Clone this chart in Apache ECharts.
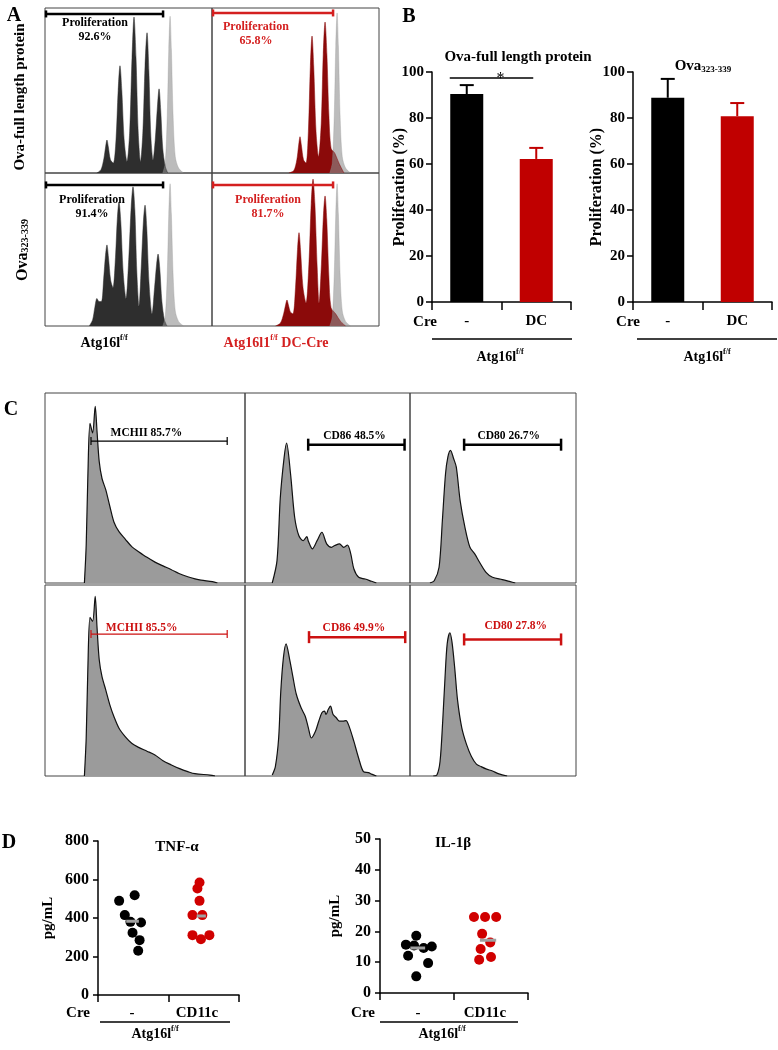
<!DOCTYPE html>
<html lang="en">
<head>
<meta charset="utf-8">
<title>Atg16l1 DC figure</title>
<style>
  body { margin: 0; background: #fff; }
  #fig { width: 778px; height: 1050px; }
</style>
</head>
<body>
<script src="https://cdn.jsdelivr.net/npm/echarts@6/dist/echarts.min.js"></script>
<div id="fig"></div>
<script>
// ---------- panel A: CFSE dilution (x = fluorescence 0-100, y = % of max)
var aCtrlTop = [[31,0],[33.5,2],[35.3,9],[36.3,16],[37.1,20],[37.9,16],[39.2,8],[40.9,6],[42.5,20],[43.8,50],[44.9,65],[46,50],[47.4,20],[49.1,7],[50.7,25],[52.1,70],[53.3,94.5],[54.5,70],[55.8,25],[57.2,7],[58.6,25],[59.9,65],[61.1,85],[62.2,62],[63.4,22],[64.7,8],[66,20],[67.3,40],[68.3,51],[69.3,38],[70.5,15],[72,4],[73.5,0]];
var aCreTop = [[46,0],[49,1.5],[50.8,8],[51.9,17],[52.7,22],[53.5,17],[54.8,8],[56.3,6],[57.7,25],[58.9,65],[59.9,83],[60.9,65],[62.3,25],[63.8,10],[65.4,30],[66.6,72],[67.7,91.5],[68.8,72],[70,35],[71.3,15],[73.5,12],[76,6],[79,0]];
var aCtrlBottom = [[26.5,0],[28.5,4],[29.8,12],[31.1,18],[32.3,16],[33.8,16],[35.2,32],[36.2,46],[37.1,53],[38,45],[39.3,30],[40.7,25],[42.2,45],[43.3,70],[44.3,81],[45.4,68],[46.8,35],[48.5,18],[50.2,45],[51.6,78],[52.7,91],[53.8,76],[55,35],[56.3,13],[57.6,38],[58.9,68],[59.9,79],[60.9,65],[62.3,28],[64.1,8],[65.6,25],[66.8,40],[67.7,47],[68.7,38],[70,16],[71.5,4],[73,0]];
var aCreBottom = [[38,0],[41,2],[42.9,8],[44.1,14],[44.9,17],[45.7,14],[47,9],[48.5,8],[50,25],[51.2,50],[52.1,61],[53,50],[54.5,25],[56.3,15],[58,40],[59.4,80],[60.5,96],[61.6,80],[63,38],[64.1,15],[65.5,40],[66.7,72],[67.7,85],[68.7,70],[70,32],[71.3,12],[74,8],[77,3],[80,0]];
// undivided controls
var aUndivTop1 = [[70.5,0],[72,6],[73.2,35],[74.1,75],[74.9,95],[75.7,75],[76.7,35],[78,10],[80,3],[83,0]];
var aUndivTop2 = [[70.5,0],[72,6],[73.2,35],[74.1,77],[74.9,97],[75.7,77],[76.7,35],[78,10],[80,3],[83,0]];
var aUndivBottom1 = [[70.5,0],[72,6],[73.2,34],[74.1,73],[74.9,93],[75.7,73],[76.7,34],[78,10],[80,3],[83,0]];
var aUndivBottom2 = [[70.5,0],[72,6],[73.2,34],[74.1,73],[74.9,93],[75.7,73],[76.7,34],[78,10],[80,3],[83,0]];
var aPercent = ['92.6%', '65.8%', '91.4%', '81.7%'];

// ---------- panel B: proliferation (%)
var bCats = ['-', 'DC'];
var bFullMean = [90.4, 62.2];
var bFullErr = [94.3, 67.0];
var bPepMean = [88.8, 80.8];
var bPepErr = [97.0, 86.5];

// ---------- panel C: surface markers (x = fluorescence 0-100, y = % of max)
var cMhcTop = [[19.7,0],[20.6,20],[21.4,55],[22.5,84],[23.8,79],[25.1,93],[26,80],[27.1,64],[28.5,55],[30.4,49],[32.5,40],[34.5,32],[37,27],[40.2,23],[43.5,19],[46.8,16.5],[51,13.5],[55,11],[59,9],[63.2,7],[67,5],[71.4,3.3],[75,2.2],[78,1.5],[83.7,0.7],[86.2,0]];
var cCd86Top = [[16.5,0],[19.4,11.8],[21.4,45],[23.7,66],[25.2,73.6],[27.6,57.5],[30.1,34.6],[32.6,25],[35.3,22.3],[37.5,24.4],[38.4,22],[40.8,18],[43.7,22.3],[46.6,26.7],[49.5,20.6],[52.4,18.8],[54.4,19.7],[57.3,20.6],[59.8,18.8],[62.1,20],[64.1,15.3],[66,7.4],[68.9,3],[72.8,2.1],[76.7,0.9],[79.6,0]];
var cCd80Top = [[12,0],[14.6,1.2],[17.5,8.3],[19.5,32.9],[21.4,57.5],[22.8,66.3],[24.4,69.8],[26.3,65.4],[27.9,61],[30.2,43.4],[33.1,29.3],[36.1,18.8],[39,15.3],[41.9,10.9],[45.8,5.6],[49.7,3],[55.6,1.8],[60.4,0.7],[63.4,0]];
var cMhcBottom = [[19.7,0],[20.6,20],[21.4,55],[22.5,83],[23.8,81],[25.1,94],[26,78],[27.1,61],[28.5,52],[30.4,45],[32.5,37],[34.5,31],[37,25],[40.2,20.5],[43.5,17],[46.8,15],[51,13],[55,11],[59,8],[63.2,5.8],[67,4],[71.4,2.3],[75,1.2],[82.5,0.5],[85,0]];
var cCd86Bottom = [[16.5,0.5],[18.4,4.9],[20.4,19.9],[21.7,44.5],[23.3,62.1],[24.9,69.2],[27.2,60.4],[29.1,51.6],[31.1,42.8],[34,35.7],[36.5,31.3],[38.4,25.2],[40.2,19.9],[42.7,23.4],[44.7,28.7],[46.6,33.1],[48.2,34],[49.1,32.2],[50.5,34.9],[51.8,36.6],[53.4,32.2],[55.3,30.5],[57.3,28.7],[59.2,28.7],[61.2,29],[63.1,26],[66,18.1],[68.9,9.3],[71.8,2.3],[74.8,1.8],[76.7,1],[79.6,0]];
var cCd80Bottom = [[14,0],[16.2,0.5],[18.1,7.6],[19.7,28.7],[21.1,51.6],[22.4,69.2],[24,75],[25.3,70.1],[26.9,56.9],[28.7,39.3],[31.2,25.2],[34.1,16.4],[37,10.2],[40,6.2],[42.9,4.9],[45.8,3.7],[49.7,2.6],[53.6,1.1],[58.5,0]];
var cGateText = ['MCHII 85.7%', 'CD86 48.5%', 'CD80 26.7%', 'MCHII 85.5%', 'CD86 49.9%', 'CD80 27.8%'];

// ---------- panel D: cytokines (pg/mL), x jitter around group 0.5 / 1.5
var tnfCtrl = [[0.30,489],[0.52,518],[0.38,415],[0.46,380],[0.61,377],[0.49,323],[0.59,285],[0.57,230]];
var tnfCre = [[1.44,584],[1.41,553],[1.44,489],[1.34,415],[1.48,415],[1.34,311],[1.58,311],[1.46,290]];
var tnfMedian = [383, 411];
var ilCtrl = [[0.49,18.6],[0.35,15.7],[0.46,15.4],[0.59,14.6],[0.70,15.1],[0.38,12.1],[0.65,9.7],[0.49,5.4]];
var ilCre = [[1.27,24.7],[1.42,24.7],[1.57,24.7],[1.38,19.2],[1.49,16.4],[1.36,14.3],[1.34,10.8],[1.50,11.7]];
var ilMedian = [14.6, 17.1];

var SERIF = "'Liberation Serif', 'Times New Roman', serif";
var RED = '#c00000';
var DOT_RED = '#d00000';

var chart = echarts.init(document.getElementById('fig'));

var grids = [
  { left: 45, top: 8, width: 167, height: 165 },
  { left: 212, top: 8, width: 167, height: 165 },
  { left: 45, top: 173, width: 167, height: 153 },
  { left: 212, top: 173, width: 167, height: 153 },
  { left: 432, top: 72, width: 139, height: 230 },
  { left: 633, top: 72, width: 139, height: 230 },
  { left: 45, top: 393, width: 200, height: 190 },
  { left: 245, top: 393, width: 165, height: 190 },
  { left: 410, top: 393, width: 166, height: 190 },
  { left: 45, top: 585, width: 200, height: 191 },
  { left: 245, top: 585, width: 165, height: 191 },
  { left: 410, top: 585, width: 166, height: 191 },
  { left: 98, top: 841, width: 141, height: 154 },
  { left: 380, top: 839, width: 148, height: 154 }
];
grids.forEach(function (g, i) {
  if (i < 4 || (i >= 6 && i < 12)) {
    g.show = true;
    g.borderColor = '#444';
    g.borderWidth = 1;
    g.backgroundColor = 'transparent';
  }
});

var xAxes = [], yAxes = [];
var boldLabel = function (size) {
  return { color: '#000', fontFamily: SERIF, fontWeight: 'bold', fontSize: size };
};
for (var i = 0; i < 14; i++) {
  if (i === 4 || i === 5) {
    xAxes.push({
      type: 'category', gridIndex: i, data: bCats,
      axisLine: { lineStyle: { color: '#000', width: 1.5 } },
      axisTick: { show: true, length: 8, lineStyle: { color: '#000', width: 1.5 } },
      axisLabel: Object.assign({ margin: 12 }, boldLabel(15))
    });
    yAxes.push({
      type: 'value', gridIndex: i, min: 0, max: 100, interval: 20,
      name: 'Proliferation (%)', nameLocation: 'middle', nameGap: i === 4 ? 24 : 28,
      nameMoveOverlap: false,
      nameTextStyle: boldLabel(16),
      splitLine: { show: false },
      axisLine: { show: true, lineStyle: { color: '#000', width: 1.5 } },
      axisTick: { show: true, length: 6, lineStyle: { color: '#000', width: 1.5 } },
      axisLabel: Object.assign({ margin: 8 }, boldLabel(15))
    });
  } else if (i >= 12) {
    xAxes.push({
      type: 'value', gridIndex: i, min: 0, max: 2, interval: 1,
      splitLine: { show: false },
      axisLine: { lineStyle: { color: '#000', width: 1.5 } },
      axisTick: { show: true, length: 7, lineStyle: { color: '#000', width: 1.5 } },
      axisLabel: { show: false }
    });
    yAxes.push({
      type: 'value', gridIndex: i, min: 0,
      max: i === 12 ? 800 : 50, interval: i === 12 ? 200 : 10,
      name: 'pg/mL', nameLocation: 'middle', nameGap: i === 12 ? 42 : 37,
      nameMoveOverlap: false,
      nameTextStyle: boldLabel(15),
      splitLine: { show: false },
      axisLine: { show: true, lineStyle: { color: '#000', width: 1.5 } },
      axisTick: { show: true, length: 5, lineStyle: { color: '#000', width: 1.5 } },
      axisLabel: Object.assign({ margin: 9 }, boldLabel(16))
    });
  } else {
    xAxes.push({ type: 'value', gridIndex: i, min: 0, max: 100, show: false });
    yAxes.push({ type: 'value', gridIndex: i, min: 0, max: 100, show: false });
  }
}

function hist(gi, data, color, opacity, stroke) {
  return {
    type: 'line', xAxisIndex: gi, yAxisIndex: gi, data: data,
    smooth: 0.3, symbol: 'none', silent: true,
    lineStyle: { color: stroke || color, width: stroke ? 1.2 : 0.5, opacity: stroke ? 1 : opacity },
    areaStyle: { color: color, opacity: opacity }
  };
}

// gate bar with end caps and its label
function gate(gi, x1, x2, y, tx, ty, text, color, lw, cap, size) {
  return {
    type: 'custom', xAxisIndex: gi, yAxisIndex: gi, silent: true, z: 5,
    data: [[x1, x2, y, tx, ty]],
    renderItem: function (params, api) {
      var a = api.coord([api.value(0), api.value(2)]);
      var b = api.coord([api.value(1), api.value(2)]);
      var t = api.coord([api.value(3), api.value(4)]);
      var st = { stroke: color, lineWidth: lw };
      return {
        type: 'group', children: [
          { type: 'line', shape: { x1: a[0], y1: a[1], x2: b[0], y2: b[1] }, style: st },
          { type: 'line', shape: { x1: a[0], y1: a[1] - cap, x2: a[0], y2: a[1] + cap }, style: st },
          { type: 'line', shape: { x1: b[0], y1: b[1] - cap, x2: b[0], y2: b[1] + cap }, style: st },
          {
            type: 'text', x: t[0], y: t[1],
            style: {
              text: text, fill: color, fontFamily: SERIF, fontWeight: 'bold', fontSize: size,
              lineHeight: size + 2, align: 'center', verticalAlign: 'middle',
              textAlign: 'center', textVerticalAlign: 'middle'
            }
          }
        ]
      };
    }
  };
}

function errBars(gi, means, errs, colors) {
  return {
    type: 'custom', xAxisIndex: gi, yAxisIndex: gi, silent: true, z: 3,
    data: means.map(function (m, k) { return { value: [k, m, errs[k]], itemStyle: { color: colors[k] } }; }),
    renderItem: function (params, api) {
      var p0 = api.coord([api.value(0), api.value(1)]);
      var p1 = api.coord([api.value(0), api.value(2)]);
      var st = { stroke: api.visual('color'), lineWidth: 2 };
      return {
        type: 'group', children: [
          { type: 'line', shape: { x1: p0[0], y1: p0[1], x2: p1[0], y2: p1[1] }, style: st },
          { type: 'line', shape: { x1: p1[0] - 7, y1: p1[1], x2: p1[0] + 7, y2: p1[1] }, style: st }
        ]
      };
    }
  };
}

function medianLine(gi, x1, x2, v) {
  return {
    type: 'line', xAxisIndex: gi, yAxisIndex: gi, data: [[x1, v], [x2, v]],
    symbol: 'none', silent: true, z: 4,
    lineStyle: { color: '#a0a0a0', width: 3 }
  };
}

function dots(gi, data, color) {
  return {
    type: 'scatter', xAxisIndex: gi, yAxisIndex: gi, data: data,
    symbolSize: 10, silent: true, itemStyle: { color: color, opacity: 1 }
  };
}

var GRAY = '#909090';
var series = [
  hist(0, aCtrlTop, '#2e2e2e', 1), hist(0, aUndivTop1, GRAY, 0.6),
  hist(1, aCreTop, '#8b0a0a', 1), hist(1, aUndivTop2, GRAY, 0.6),
  hist(2, aCtrlBottom, '#2e2e2e', 1), hist(2, aUndivBottom1, GRAY, 0.6),
  hist(3, aCreBottom, '#8b0a0a', 1), hist(3, aUndivBottom2, GRAY, 0.6),
  gate(0, 0.6, 70.7, 96.4, 29.9, 87, 'Proliferation\n' + aPercent[0], '#000', 2.5, 3.5, 12),
  gate(1, 0.6, 72.5, 97, 26.3, 84.2, 'Proliferation\n' + aPercent[1], '#d42020', 2.5, 3.5, 12),
  gate(2, 0.6, 70.7, 92.2, 28.1, 77.8, 'Proliferation\n' + aPercent[2], '#000', 2.5, 3.5, 12),
  gate(3, 0.6, 72.5, 92.2, 33.5, 77.8, 'Proliferation\n' + aPercent[3], '#d42020', 2.5, 3.5, 12),

  {
    type: 'bar', xAxisIndex: 4, yAxisIndex: 4, barWidth: 33, silent: true,
    data: bFullMean.map(function (v, k) { return { value: v, itemStyle: { color: k ? RED : '#000' } }; })
  },
  errBars(4, bFullMean, bFullErr, ['#000', RED]),
  {
    type: 'bar', xAxisIndex: 5, yAxisIndex: 5, barWidth: 33, silent: true,
    data: bPepMean.map(function (v, k) { return { value: v, itemStyle: { color: k ? RED : '#000' } }; })
  },
  errBars(5, bPepMean, bPepErr, ['#000', RED]),
  {
    // significance bracket between the two groups
    type: 'custom', xAxisIndex: 4, yAxisIndex: 4, silent: true,
    data: [[0, 1, 97.4]],
    renderItem: function (params, api) {
      var a = api.coord([api.value(0), api.value(2)]);
      var b = api.coord([api.value(1), api.value(2)]);
      return {
        type: 'group', children: [
          { type: 'line', shape: { x1: a[0] - 17, y1: a[1], x2: b[0] - 3, y2: b[1] }, style: { stroke: '#000', lineWidth: 1.5 } },
          { type: 'text', x: (a[0] + b[0]) / 2 - 1, y: a[1] + 1, style: { text: '*', fill: '#000', fontFamily: SERIF, fontSize: 16, align: 'center', verticalAlign: 'middle', textAlign: 'center', textVerticalAlign: 'middle' } }
        ]
      };
    }
  },

  hist(6, cMhcTop, '#9b9b9b', 1, '#111'),
  hist(7, cCd86Top, '#9b9b9b', 1, '#111'),
  hist(8, cCd80Top, '#9b9b9b', 1, '#111'),
  hist(9, cMhcBottom, '#9b9b9b', 1, '#111'),
  hist(10, cCd86Bottom, '#9b9b9b', 1, '#111'),
  hist(11, cCd80Bottom, '#9b9b9b', 1, '#111'),
  gate(6, 23.0, 91.1, 74.7, 50.7, 78.9, cGateText[0], '#000', 1.2, 4, 11.5),
  gate(7, 38.3, 96.7, 72.8, 66.4, 77.2, cGateText[1], '#000', 2.5, 6, 11.5),
  gate(8, 32.6, 91, 72.8, 59.5, 77.2, cGateText[2], '#000', 2.5, 6, 11.5),
  gate(9, 23.0, 91.1, 74.3, 48.3, 77.6, cGateText[3], '#cc1111', 1.2, 4, 11.5),
  gate(10, 38.8, 97.1, 72.7, 66, 77.5, cGateText[4], '#cc1111', 2.5, 6, 11.5),
  gate(11, 32.6, 91, 71.5, 63.7, 78.5, cGateText[5], '#cc1111', 2.5, 6, 11.5),

  dots(12, tnfCtrl, '#000'), dots(12, tnfCre, DOT_RED),
  medianLine(12, 0.40, 0.58, tnfMedian[0]), medianLine(12, 1.40, 1.53, tnfMedian[1]),
  dots(13, ilCtrl, '#000'), dots(13, ilCre, DOT_RED),
  medianLine(13, 0.41, 0.61, ilMedian[0]), medianLine(13, 1.35, 1.57, ilMedian[1])
];

// ---- free text
function txt(x, y, s, o) {
  o = o || {};
  return {
    type: 'text', x: x, y: y, rotation: o.rot || 0, silent: true,
    style: {
      text: s, fill: o.color || '#000', fontFamily: SERIF, fontWeight: 'bold',
      fontSize: o.size || 15, align: o.align || 'center', verticalAlign: 'middle',
      textAlign: o.align || 'center', textVerticalAlign: 'middle', rich: o.rich
    }
  };
}
function supRich(size, color) {
  return {
    m: { fontFamily: SERIF, fontWeight: 'bold', fontSize: size, lineHeight: size + 4, fill: color, color: color },
    s: { fontFamily: SERIF, fontWeight: 'bold', fontSize: Math.round(size * 0.6), lineHeight: 9, verticalAlign: 'top', fill: color, color: color }
  };
}
function subRich(size, color) {
  return {
    m: { fontFamily: SERIF, fontWeight: 'bold', fontSize: size, lineHeight: size + 5, verticalAlign: 'bottom', fill: color, color: color },
    s: { fontFamily: SERIF, fontWeight: 'bold', fontSize: Math.round(size * 0.62), lineHeight: 10, verticalAlign: 'bottom', fill: color, color: color }
  };
}
function hline(x1, x2, y) {
  return { type: 'line', silent: true, shape: { x1: x1, y1: y, x2: x2, y2: y }, style: { stroke: '#000', lineWidth: 1.5 } };
}
var ROT = Math.PI / 2;
var graphics = [
  txt(14, 16, 'A', { size: 20 }),
  txt(20, 97, 'Ova-full length protein', { rot: ROT, size: 15 }),
  txt(20, 250, '{m|Ova}{s|323-339}', { rot: ROT, rich: subRich(16, '#000') }),
  txt(104, 343, '{m|Atg16l}{s|f/f}', { rich: supRich(14, '#000') }),
  txt(276, 343, '{m|Atg16l1}{s|f/f}{m| DC-Cre}', { rich: supRich(14, '#d42020') }),

  txt(409, 17, 'B', { size: 20 }),
  txt(518, 57, 'Ova-full length protein', { size: 15 }),
  txt(703, 64, '{m|Ova}{s|323-339}', { rich: subRich(15, '#000') }),
  txt(425, 322, 'Cre', { size: 15 }),
  txt(628, 322, 'Cre', { size: 15 }),
  hline(432, 572, 339), hline(637, 777, 339),
  txt(500, 357, '{m|Atg16l}{s|f/f}', { rich: supRich(14, '#000') }),
  txt(707, 357, '{m|Atg16l}{s|f/f}', { rich: supRich(14, '#000') }),

  txt(11, 410, 'C', { size: 20 }),

  txt(9, 843, 'D', { size: 20 }),
  txt(177, 847, 'TNF-α', { size: 15 }),
  txt(453, 843, 'IL-1β', { size: 15 }),
  txt(78, 1013, 'Cre', { size: 15 }),
  txt(132, 1013, '-', { size: 15 }),
  txt(197, 1013, 'CD11c', { size: 15 }),
  txt(363, 1013, 'Cre', { size: 15 }),
  txt(418, 1013, '-', { size: 15 }),
  txt(485, 1013, 'CD11c', { size: 15 }),
  hline(100, 230, 1022), hline(380, 518, 1022),
  txt(155, 1034, '{m|Atg16l}{s|f/f}', { rich: supRich(14, '#000') }),
  txt(442, 1034, '{m|Atg16l}{s|f/f}', { rich: supRich(14, '#000') })
];

chart.setOption({
  animation: false,
  backgroundColor: '#fff',
  grid: grids,
  xAxis: xAxes,
  yAxis: yAxes,
  series: series,
  graphic: graphics
});
</script>
</body>
</html>
